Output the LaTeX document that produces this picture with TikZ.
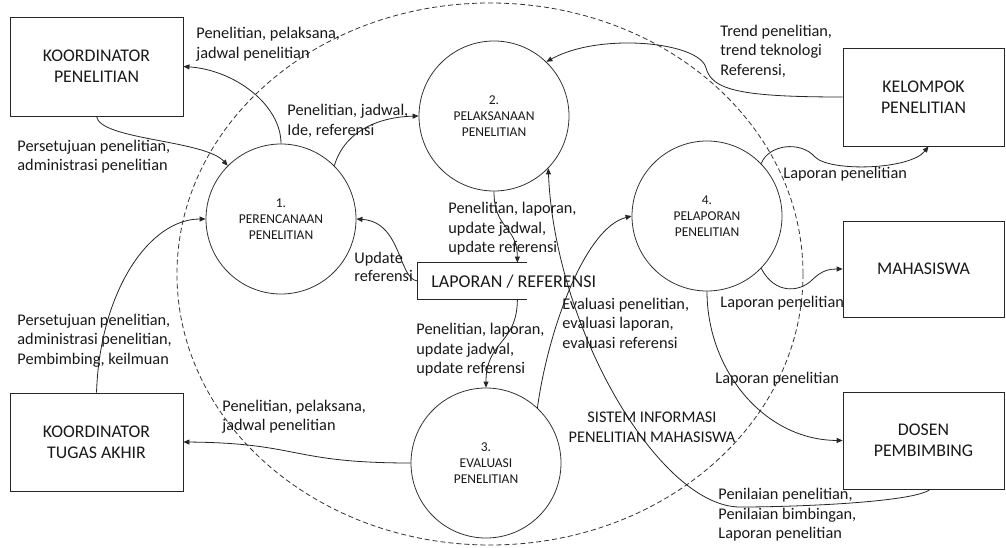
\documentclass[tikz,border=0pt]{standalone}
\usepackage{fontspec}
\setmainfont{Carlito}
\usetikzlibrary{arrows.meta,calc}
\begin{document}
\begin{tikzpicture}[x=1pt,y=-1pt,
  line width=0.8pt, draw=black!85, text=black!90,
  ent/.style={draw=black!85, rectangle, inner sep=0pt, align=center, font=\fontsize{17.8}{21}\selectfont},
  proc/.style={draw=black!80, circle, minimum size=150pt, inner sep=0pt, align=center, font=\fontsize{13.5}{16}\selectfont},
  lbl/.style={inner sep=0pt, anchor=west, align=left, font=\fontsize{16.3}{19.5}\selectfont},
  flow/.style={draw=black!85, -{Triangle[length=6pt,width=5pt]}},
  sysbound/.style={draw=black!80, dash pattern=on 5pt off 3pt},
]
\useasboundingbox (0,0) rectangle (1006,548);
\fill[white] (0,0) rectangle (1006,548);

% system boundary
\draw[sysbound] (490,274) ellipse [x radius=313, y radius=271];

% external entities
\node[ent, minimum width=173pt, minimum height=99pt] (kp) at (96.5,66.5) {KOORDINATOR\\PENELITIAN};
\node[ent, minimum width=173pt, minimum height=98pt] (kta) at (96.5,442) {KOORDINATOR\\TUGAS AKHIR};
\node[ent, minimum width=161pt, minimum height=98pt] (kel) at (923.5,97) {KELOMPOK\\PENELITIAN};
\node[ent, minimum width=161pt, minimum height=96pt] (mhs) at (923.5,269) {MAHASISWA};
\node[ent, minimum width=161pt, minimum height=97pt] (dos) at (923.5,440.5) {DOSEN\\PEMBIMBING};

% processes
\node[proc] (c1) at (281,219) {1.\\PERENCANAAN\\PENELITIAN};
\node[proc] (c2) at (494,116) {2.\\PELAKSANAAN\\PENELITIAN};
\node[proc] (c3) at (486,463) {3.\\EVALUASI\\PENELITIAN};
\node[proc] (c4) at (707,216) {4.\\PELAPORAN\\PENELITIAN};

% data store
\node[minimum width=109pt, minimum height=36pt, inner sep=0pt] (lap) at (472.5,281) {};
\draw (lap.north east) -- (lap.north west) -- (lap.south west) -- (lap.south east);
\node[inner sep=0pt, anchor=west, font=\fontsize{18}{21}\selectfont] (laptxt) at (431,282) {LAPORAN / REFERENSI};

% system label
\node[inner sep=0pt, align=center, font=\fontsize{16.3}{20}\selectfont] (sys) at (652,427) {SISTEM INFORMASI\\PENELITIAN MAHASISWA};

% flows
\draw[flow] (c1.north) .. controls (281,105) and (235,70) .. (kp.east);
\draw[flow] (kp.south) .. controls (100,140) and (205,140) .. (c1.135);
\draw[flow] (c1.45) .. controls (345,130) and (380,117) .. (c2.west);
\draw[flow] (c2.south) .. controls (494,230) and (517,225) .. ($(lap.north east)+(-10,0)$);
\draw[flow] ($(lap.south east)+(-10,0)$) .. controls (517,345) and (486,340) .. (c3.north);
\draw[flow] (lap.west) .. controls (398,279) and (402,222) .. (c1.east);
\draw[flow] (kta.north) .. controls (100,290) and (150,219) .. (c1.west);
\draw[flow] (c3.west) .. controls (290,463) and (300,443) .. (kta.east);
\draw[flow] (c3.47) .. controls (548,330) and (585,228) .. (c4.west);
\draw[flow] (kel.west) .. controls (740,97) and (712,90) .. (706,68) .. controls (700,42) and (600,32) .. (c2.46);
\draw[flow] (c4.44) .. controls (768,145) and (800,140) .. (815,157) .. controls (830,172) and (910,170) .. ($(kel.south)+(5,0)$);
\draw[flow] (c4.-44) .. controls (775,295) and (800,292) .. (812,280) .. controls (822,270) and (830,269) .. (mhs.west);
\draw[flow] (c4.south) .. controls (707,370) and (764,440) .. (dos.west);
\draw[flow] ($(dos.south)+(6.5,0)$) .. controls (915,502) and (800,507) .. (740,507) .. controls (660,507) and (555,330) .. (c2.-44);

% labels
\node[lbl] (l1) at (196,44) {Penelitian, pelaksana,\\jadwal penelitian};
\node[lbl] (l2) at (17,156.5) {Persetujuan penelitian,\\administrasi penelitian};
\node[lbl] (l3) at (287,121) {Penelitian, jadwal,\\Ide, referensi};
\node[lbl] (l4) at (720,51) {Trend penelitian,\\trend teknologi\\Referensi,};
\node[lbl] (l5) at (448,229) {Penelitian, laporan,\\update jadwal,\\update referensi};
\node[lbl, font=\fontsize{16.3}{18}\selectfont] (l6) at (354,267) {Update\\referensi};
\node[lbl] (l7) at (783,174) {Laporan penelitian};
\node[lbl] (l8) at (720,303) {Laporan penelitian};
\node[lbl] (l9) at (17,340.5) {Persetujuan penelitian,\\administrasi penelitian,\\Pembimbing, keilmuan};
\node[lbl] (l10) at (416,350) {Penelitian, laporan,\\update jadwal,\\update referensi};
\node[lbl] (l11) at (562,323) {Evaluasi penelitian,\\evaluasi laporan,\\evaluasi referensi};
\node[lbl] (l12) at (715,379) {Laporan penelitian};
\node[lbl] (l13) at (222,416.5) {Penelitian, pelaksana,\\jadwal penelitian};
\node[lbl] (l15) at (718,515) {Penilaian penelitian,\\Penilaian bimbingan,\\Laporan penelitian};
\end{tikzpicture}
\end{document}
